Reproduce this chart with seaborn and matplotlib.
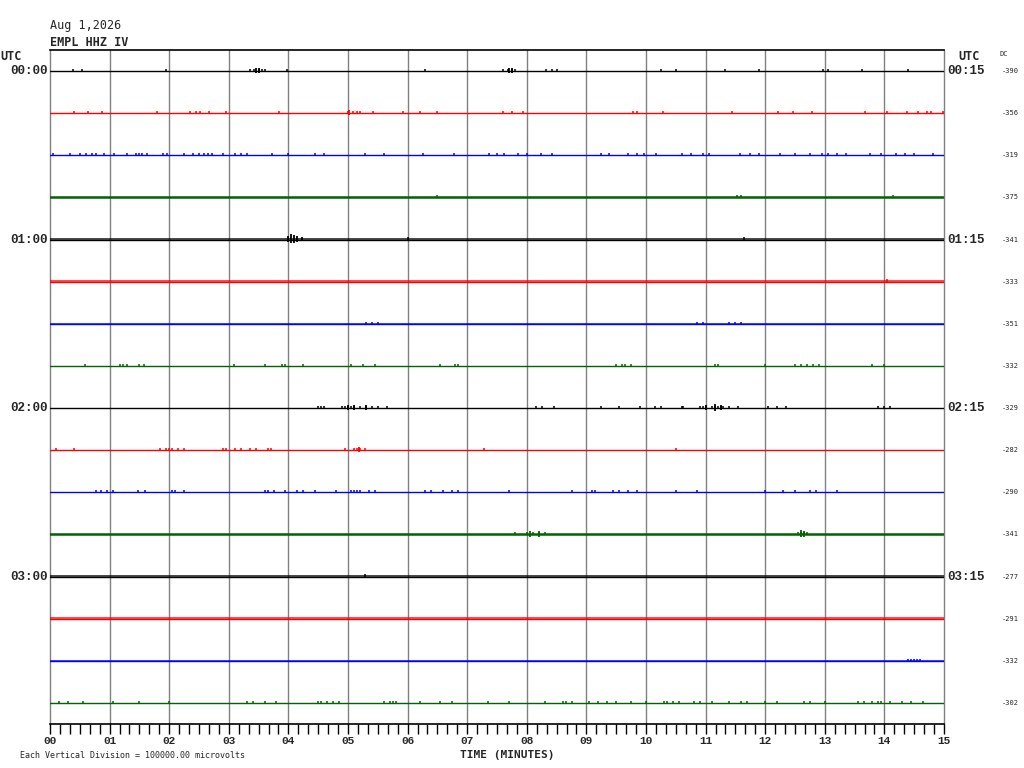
import matplotlib
matplotlib.use("Agg")
import matplotlib.pyplot as plt
import matplotlib.transforms as mtransforms
from matplotlib.ticker import MultipleLocator, FixedLocator
import numpy as np
import pandas as pd
import seaborn as sns

# ---- chart data ----
station = "EMPL HHZ IV"
day = "Aug 1,2026"
uv_per_division = 100000.0
minutes = [0, 15]
left_hours = ["00:00", "01:00", "02:00", "03:00"]
right_hours = ["00:15", "01:15", "02:15", "03:15"]
row_colors = ["black", "red", "blue", "#006400"]
dc_values = [-390, -356, -319, -375, -341, -333, -351, -332,
             -329, -282, -290, -341, -277, -291, -332, -302]
# background noise half-width of each trace, microvolts
noise_uv = [0, 0, 1000, 3000, 3000, 3200, 2200, 0,
            0, 0, 1200, 2600, 3000, 3200, 2200, 0]
# default spike size per trace, microvolts
spike_uv = [5000, 5000, 4500, 5000, 5500, 5500, 5000, 5000,
            5000, 5000, 4500, 5000, 5500, 5500, 5000, 5000]

# spike positions (minutes) on each trace
s00 = [0.39, 0.53, 1.95, 3.35, 3.42, 3.5, 3.55, 3.6, 3.97, 6.3, 7.6, 7.68, 7.75,
       7.8, 8.33, 8.42, 8.5, 10.26, 10.5, 11.33, 11.9, 12.97, 13.05, 13.63, 14.4]
s01 = [0.41, 0.63, 0.87, 1.79, 2.35, 2.45, 2.52, 2.66, 2.95, 3.84, 5.0, 5.08, 5.15,
       5.2, 5.42, 5.92, 6.2, 6.49, 7.6, 7.75, 7.94, 9.78, 9.85, 10.29, 11.44, 12.22,
       12.47, 12.78, 13.68, 14.04, 14.38, 14.57, 14.72, 14.78, 14.98]
s02 = [0.05, 0.34, 0.5, 0.6, 0.7, 0.78, 0.9, 1.07, 1.3, 1.45, 1.5, 1.55, 1.62, 1.9,
       1.96, 2.25, 2.4, 2.5, 2.58, 2.65, 2.72, 2.9, 3.1, 3.2, 3.3, 3.73, 3.99, 4.45,
       4.6, 5.28, 5.6, 6.25, 6.78, 7.36, 7.5, 7.62, 7.85, 8.0, 8.23, 8.42, 9.25, 9.38,
       9.7, 9.85, 9.97, 10.17, 10.6, 10.75, 10.95, 11.05, 11.57, 11.75, 11.9, 12.25,
       12.5, 12.75, 12.95, 13.05, 13.2, 13.35, 13.75, 13.95, 14.2, 14.35, 14.5, 14.81]
s03 = [6.5, 11.52, 11.6, 14.15]
s04 = [6.0, 11.65]
s05 = [14.05]
s06 = [5.3, 5.4, 5.5, 10.85, 10.95, 11.4, 11.5, 11.6]
s07 = [0.58, 1.17, 1.22, 1.3, 1.5, 1.57, 3.08, 3.6, 3.9, 3.95, 4.25, 5.05, 5.25,
       5.45, 6.55, 6.8, 6.85, 9.5, 9.6, 9.65, 9.75, 11.15, 11.2, 12.0, 12.5, 12.6,
       12.7, 12.8, 12.9, 13.8, 14.0]
s08 = [4.5, 4.55, 4.6, 4.9, 4.95, 5.0, 5.05, 5.1, 5.2, 5.3, 5.4, 5.5, 5.65, 8.15,
       8.25, 8.45, 9.25, 9.55, 9.9, 10.15, 10.25, 10.6, 10.62, 10.9, 10.95, 11.0,
       11.1, 11.15, 11.2, 11.25, 11.3, 11.4, 11.55, 12.05, 12.2, 12.35, 13.9, 14.0, 14.1]
s09 = [0.1, 0.4, 1.85, 1.95, 2.0, 2.05, 2.15, 2.25, 2.9, 2.95, 3.1, 3.2, 3.35, 3.45,
       3.65, 3.7, 4.95, 5.1, 5.15, 5.2, 5.28, 7.28, 10.5]
s10 = [0.78, 0.85, 0.95, 1.05, 1.48, 1.6, 2.05, 2.1, 2.25, 3.6, 3.65, 3.75, 3.95,
       4.15, 4.25, 4.45, 4.8, 5.05, 5.1, 5.15, 5.2, 5.35, 5.45, 6.3, 6.4, 6.6, 6.75,
       6.85, 7.7, 8.75, 9.1, 9.15, 9.45, 9.55, 9.7, 9.85, 10.5, 10.85, 12.0, 12.3,
       12.5, 12.75, 12.85, 13.2]
s11 = [7.8, 8.0, 8.1, 8.2, 8.3, 12.55, 12.6, 12.65, 12.7]
s12 = [5.28]
s13 = []
s14 = [14.4, 14.45, 14.5, 14.55, 14.6]
s15 = [0.15, 0.3, 0.55, 1.05, 1.5, 2.0, 3.3, 3.4, 3.6, 3.8, 4.5, 4.55, 4.65, 4.75,
       4.85, 5.6, 5.7, 5.75, 5.8, 6.2, 6.55, 6.75, 7.35, 7.7, 8.3, 8.6, 8.65, 8.75,
       9.05, 9.2, 9.35, 9.5, 9.75, 10.0, 10.3, 10.35, 10.45, 10.55, 10.8, 10.9, 11.1,
       11.4, 11.6, 11.7, 12.0, 12.2, 12.65, 12.75, 13.0, 13.55, 13.65, 13.8, 13.9,
       13.95, 14.1, 14.3, 14.45, 14.65]
spike_rows = [s00, s01, s02, s03, s04, s05, s06, s07,
              s08, s09, s10, s11, s12, s13, s14, s15]

# larger events: (trace, minute, microvolts)
events = [(0, 3.45, 7500), (0, 3.5, 8000), (0, 7.7, 8000), (0, 7.75, 7500),
          (4, 4.0, 9000), (4, 4.05, 13000), (4, 4.1, 12000), (4, 4.15, 9000), (4, 4.22, 6000),
          (8, 5.0, 7500), (8, 5.1, 8000), (8, 5.3, 7500), (8, 11.0, 7500), (8, 11.15, 9000),
          (8, 11.25, 7500), (11, 8.05, 7000), (11, 8.2, 7000), (11, 12.6, 9500),
          (11, 12.65, 8000), (1, 5.02, 6500), (9, 5.18, 7000)]

n_rows = len(dc_values)

sns.set_theme(style="white")
plt.rcParams["font.family"] = ["DejaVu Sans Mono", "DejaVu Sans"]

fig = plt.figure(figsize=(10.24, 7.68), dpi=100)
ax = fig.add_axes([50 / 1024, 44 / 768, 894 / 1024, 674 / 768])

# baselines through seaborn
base = pd.DataFrame({
    "minute": minutes * n_rows,
    "row": np.repeat(np.arange(n_rows), 2),
})
palette = {r: row_colors[r % 4] for r in range(n_rows)}
sns.lineplot(data=base, x="minute", y="row", hue="row", units="row",
             estimator=None, palette=palette, linewidth=1.0, legend=False, ax=ax)

for r in range(n_rows):
    col = row_colors[r % 4]
    if noise_uv[r] > 0:
        half = noise_uv[r] / uv_per_division
        ax.fill_between(minutes, r - half, r + half, color=col, alpha=0.7, linewidth=0)
    amp = spike_uv[r] / uv_per_division
    xs = np.array(spike_rows[r])
    if len(xs):
        ax.vlines(xs, r - amp, r + amp * 0.5, color=col, linewidth=1.1)

for r, m, uv in events:
    a = uv / uv_per_division
    ax.vlines(m, r - a, r + a * 0.7, color=row_colors[r % 4], linewidth=1.3)

ax.set_xlim(0, 15)
ax.set_ylim(n_rows - 0.5, -0.5)
ax.set_xlabel("")
ax.set_ylabel("")
ax.set_yticks([])

for m in range(16):
    ax.axvline(m, color="#808080", linewidth=1.0, zorder=0, clip_on=False)

for side in ["left", "right"]:
    ax.spines[side].set_visible(False)
for side in ["top", "bottom"]:
    ax.spines[side].set_color("black")
    ax.spines[side].set_linewidth(1.2)

ax.xaxis.set_major_locator(MultipleLocator(1))
ax.xaxis.set_minor_locator(FixedLocator(np.arange(0, 91) / 6))
ax.set_xticks(range(16))
ax.set_xticklabels([f"{m:02d}" for m in range(16)],
                   fontfamily="Liberation Mono", fontweight="bold", fontsize=8)
ax.tick_params(axis="x", which="both", direction="out", length=7, width=1,
               color="black", bottom=True, pad=2)

# hour and DC labels beside traces
trans_l = mtransforms.blended_transform_factory(fig.transFigure, ax.transData)
for i, lab in enumerate(left_hours):
    ax.text(48 / 1024, i * 4, lab, transform=trans_l, ha="right", va="center",
            fontfamily="Liberation Mono", fontweight="bold", fontsize=9)
for i, lab in enumerate(right_hours):
    ax.text(947 / 1024, i * 4, lab, transform=trans_l, ha="left", va="center",
            fontfamily="Liberation Mono", fontweight="bold", fontsize=9)
for r, dc in enumerate(dc_values):
    ax.text(1002 / 1024, r, str(dc), transform=trans_l, ha="left", va="center",
            fontsize=5)

def px(x, y):
    return x / 1024, 1 - y / 768

fig.text(*px(50, 26), day, ha="left", va="center", fontsize=8.5)
fig.text(*px(50, 42), station, ha="left", va="center", fontsize=8.5, fontweight="bold")
fig.text(*px(0, 57), "UTC", ha="left", va="center", fontsize=8.5, fontweight="bold")
fig.text(*px(958, 57), "UTC", ha="left", va="center", fontsize=8.5, fontweight="bold")
fig.text(*px(999, 54), "DC", ha="left", va="center", fontsize=5)
fig.text(*px(460, 755), "TIME (MINUTES)", ha="left", va="center", fontsize=8,
         fontweight="bold")
fig.text(*px(20, 755), "Each Vertical Division = %.2f microvolts" % uv_per_division,
         ha="left", va="center", fontsize=6)

fig.savefig("out.png", dpi=100)
